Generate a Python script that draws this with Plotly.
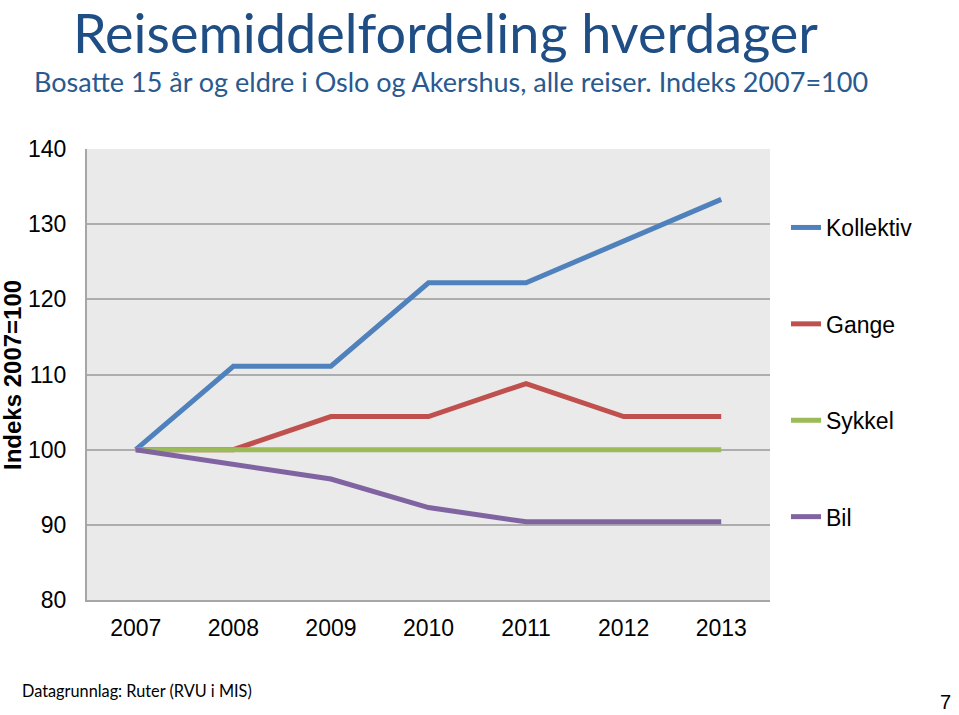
import plotly.graph_objects as go

years = ["2007", "2008", "2009", "2010", "2011", "2012", "2013"]
kollektiv = [100, 111.1, 111.1, 122.2, 122.2, 127.8, 133.3]
gange = [100, 100, 104.4, 104.4, 108.8, 104.4, 104.4]
sykkel = [100, 100, 100, 100, 100, 100, 100]
bil = [100, 98.0, 96.1, 92.3, 90.4, 90.4, 90.4]

series = [
    ("Kollektiv", kollektiv, "#4F81BD"),
    ("Gange", gange, "#C0504D"),
    ("Sykkel", sykkel, "#9BBB59"),
    ("Bil", bil, "#8064A2"),
]

fig = go.Figure()
for name, vals, col in series:
    fig.add_trace(go.Scatter(
        x=years, y=vals, name=name, mode="lines",
        line=dict(color=col, width=5), legendgroup=name,
    ))

W, L, T = 683, 87, 149
H = 451

def px(x):
    return (x - L) / W

def py(y):
    return (T + H - y) / H

fig.update_layout(
    width=959, height=715,
    margin=dict(l=87, r=189, t=149, b=115, autoexpand=False),
    paper_bgcolor="white",
    plot_bgcolor="#EAEAEA",
    font=dict(family="Liberation Sans, Arial", size=23, color="black"),
    showlegend=True,
    legend=dict(
        x=px(786), y=py(206), xanchor="left", yanchor="top",
        tracegroupgap=63.5, traceorder="grouped",
        font=dict(size=23, family="Liberation Sans, Arial", color="black"),
        bgcolor="rgba(0,0,0,0)",
    ),
    xaxis=dict(
        type="category", range=[-0.5, 6.5], automargin=False,
        showgrid=False, showline=True, linecolor="#A6A6A6", linewidth=2,
        ticks="", tickfont=dict(size=23), ticklabelstandoff=6,
    ),
    yaxis=dict(
        range=[80, 140], dtick=10, automargin=False,
        showgrid=True, gridcolor="#ADADAD", gridwidth=2,
        showline=True, linecolor="#A6A6A6", linewidth=2,
        ticks="", tickfont=dict(size=23), ticklabelstandoff=14,
        zeroline=False,
    ),
)

fig.add_annotation(
    text="<b>Indeks 2007=100</b>", xref="paper", yref="paper",
    x=px(12), y=py(375), xanchor="center", yanchor="middle", textangle=-90,
    showarrow=False, font=dict(family="Liberation Sans, Arial", size=24, color="black"),
)
fig.add_annotation(
    text="Reisemiddelfordeling hverdager", xref="paper", yref="paper",
    x=px(71), y=py(32.5), xanchor="left", yanchor="middle",
    showarrow=False, font=dict(family="Lato", size=54, color="#1F4E85"),
)
fig.add_annotation(
    text="Bosatte 15 år og eldre i Oslo og Akershus, alle reiser. Indeks 2007=100",
    xref="paper", yref="paper",
    x=px(32), y=py(81.5), xanchor="left", yanchor="middle",
    showarrow=False, font=dict(family="Lato", size=27, color="#28598F"),
)
fig.add_annotation(
    text="Datagrunnlag: Ruter (RVU i MIS)", xref="paper", yref="paper",
    x=px(20), y=py(690), xanchor="left", yanchor="middle",
    showarrow=False, font=dict(family="Lato", size=16.3, color="black"),
)
fig.add_annotation(
    text="7", xref="paper", yref="paper",
    x=px(953), y=py(702), xanchor="right", yanchor="middle",
    showarrow=False, font=dict(family="Liberation Sans", size=20, color="black"),
)

fig.write_html("out.html")
